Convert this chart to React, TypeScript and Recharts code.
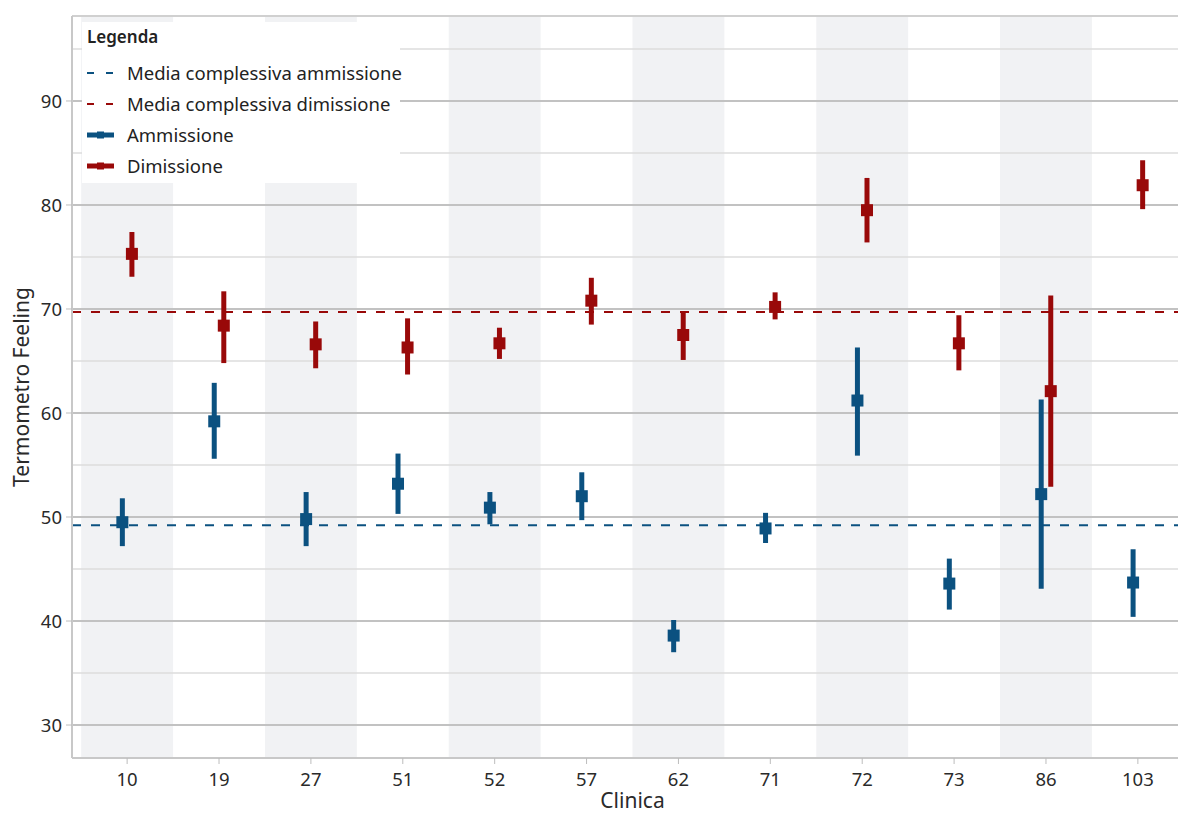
import React from 'react';
import {
  ComposedChart, Scatter, XAxis, YAxis, ReferenceLine, ReferenceArea, ErrorBar, Legend, Label,
} from 'recharts';

const clinics = ['10', '19', '27', '51', '52', '57', '62', '71', '72', '73', '86', '103'];
const ammMean = [49.5, 59.2, 49.8, 53.2, 50.9, 52.0, 38.6, 48.9, 61.2, 43.6, 52.2, 43.7];
const ammLow = [47.2, 55.6, 47.2, 50.3, 49.3, 49.7, 37.0, 47.5, 55.9, 41.1, 43.1, 40.4];
const ammHigh = [51.8, 62.9, 52.4, 56.1, 52.4, 54.3, 40.1, 50.4, 66.3, 46.0, 61.3, 46.9];
const disMean = [75.3, 68.4, 66.6, 66.3, 66.7, 70.8, 67.5, 70.2, 79.5, 66.7, 62.1, 81.9];
const disLow = [73.1, 64.8, 64.3, 63.7, 65.2, 68.5, 65.1, 69.0, 76.4, 64.1, 52.9, 79.6];
const disHigh = [77.4, 71.7, 68.8, 69.1, 68.2, 73.0, 69.8, 71.6, 82.6, 69.4, 71.3, 84.3];
const overallAmm = 49.2;
const overallDis = 69.7;
const majorTicks = [30, 40, 50, 60, 70, 80, 90];
const minorTicks = [35, 45, 55, 65, 75, 85, 95];

const BLUE = '#0b5180';
const RED = '#990909';
const FONT = '"Noto Sans", "Open Sans", sans-serif';
const X_DOMAIN: [number, number] = [-0.6, 11.6];
const Y_DOMAIN: [number, number] = [26.83, 98.17];
const SHIFT = 0.052;

const ammData = clinics.map((c, i) => ({ x: i, y: ammMean[i], err: [ammMean[i] - ammLow[i], ammHigh[i] - ammMean[i]] }));
const disData = clinics.map((c, i) => ({ x: i, y: disMean[i], err: [disMean[i] - disLow[i], disHigh[i] - disMean[i]] }));

const square = (color: string) => (props: any) => {
  const { cx, cy } = props;
  if (cx == null || cy == null) return <g />;
  return <rect x={cx - 6} y={cy - 6} width={12} height={12} fill={color} />;
};

const legendItems = [
  { label: 'Media complessiva ammissione', color: BLUE, dashed: true },
  { label: 'Media complessiva dimissione', color: RED, dashed: true },
  { label: 'Ammissione', color: BLUE, dashed: false },
  { label: 'Dimissione', color: RED, dashed: false },
];

const LegendBox = () => (
  <div style={{ position: 'relative', width: 318, height: 161, background: '#ffffff', fontFamily: FONT, color: '#222' }}>
    <div style={{ position: 'absolute', left: 5, top: 4, fontSize: 17, fontWeight: 600, lineHeight: '22px' }}>Legenda</div>
    {legendItems.map((it, k) => (
      <div key={it.label} style={{ position: 'absolute', left: 5, top: 40 + k * 31, height: 22, display: 'flex', alignItems: 'center' }}>
        <svg width={32} height={12} style={{ display: 'block' }}>
          {it.dashed ? (
            <line x1={0} y1={6} x2={28} y2={6} stroke={it.color} strokeWidth={2} strokeDasharray="7 12" />
          ) : (
            <g>
              <line x1={0} y1={6} x2={27} y2={6} stroke={it.color} strokeWidth={5} />
              <rect x={10} y={2.5} width={7} height={7} fill={it.color} />
            </g>
          )}
        </svg>
        <span style={{ marginLeft: 8, fontSize: 18.5, lineHeight: '22px', whiteSpace: 'nowrap' }}>{it.label}</span>
      </div>
    ))}
  </div>
);

export default function App() {
  return (
    <div style={{ position: 'absolute', left: 0, top: 0, width: 1178, height: 813, overflow: 'hidden', background: '#fff' }}>
      <ComposedChart width={1200} height={813} margin={{ top: 16, right: 7, bottom: 0, left: 0 }}>
        <XAxis xAxisId="amm" type="number" dataKey="x" domain={[X_DOMAIN[0] + SHIFT, X_DOMAIN[1] + SHIFT]} allowDataOverflow hide height={0} />
        <XAxis xAxisId="dis" type="number" dataKey="x" domain={[X_DOMAIN[0] - SHIFT, X_DOMAIN[1] - SHIFT]} allowDataOverflow hide height={0} />
        <XAxis
          xAxisId="main"
          type="number"
          dataKey="x"
          domain={X_DOMAIN}
          ticks={clinics.map((c, i) => i)}
          tickFormatter={(v: number) => clinics[v] ?? ''}
          allowDataOverflow
          height={55}
          axisLine={{ stroke: '#c8c8c8', strokeWidth: 2 }}
          tickLine={{ stroke: '#bdbdbd' }}
          tickSize={6}
          tickMargin={9}
          tick={{ fill: '#2a2a2a', fontSize: 18.5, fontFamily: FONT }}
        >
          <Label value="Clinica" position="insideBottom" offset={5} style={{ fill: '#2a2a2a', fontSize: 21, fontFamily: FONT }} />
        </XAxis>
        <YAxis
          type="number"
          dataKey="y"
          domain={Y_DOMAIN}
          ticks={majorTicks}
          allowDataOverflow
          width={72}
          axisLine={{ stroke: '#c8c8c8', strokeWidth: 2 }}
          tickLine={{ stroke: '#bdbdbd' }}
          tickSize={6}
          tickMargin={4}
          tick={{ fill: '#2a2a2a', fontSize: 18.5, fontFamily: FONT }}
        >
          <Label value="Termometro Feeling" angle={-90} position="insideLeft" offset={22} style={{ textAnchor: 'middle', fill: '#2a2a2a', fontSize: 21, fontFamily: FONT }} />
        </YAxis>

        {clinics.map((c, i) => (i % 2 === 0 ? (
          <ReferenceArea key={'band' + c} xAxisId="main" x1={i - 0.5} x2={i + 0.5} y1={Y_DOMAIN[0]} y2={Y_DOMAIN[1]} fill="#f1f2f4" fillOpacity={1} stroke="none" />
        ) : null))}
        {minorTicks.map((t) => (
          <ReferenceLine key={'mn' + t} xAxisId="main" y={t} stroke="#dcdcdc" strokeWidth={1.5} />
        ))}
        {majorTicks.map((t) => (
          <ReferenceLine key={'mj' + t} xAxisId="main" y={t} stroke="#c2c2c2" strokeWidth={2} />
        ))}
        <ReferenceLine xAxisId="main" y={Y_DOMAIN[1]} stroke="#d0d0d0" strokeWidth={2} />
        <ReferenceLine xAxisId="main" y={overallAmm} stroke={BLUE} strokeWidth={2} strokeDasharray="9 10" />
        <ReferenceLine xAxisId="main" y={overallDis} stroke={RED} strokeWidth={2} strokeDasharray="9 10" />

        <Scatter name="Ammissione" xAxisId="amm" data={ammData} fill={BLUE} shape={square(BLUE)} isAnimationActive={false}>
          <ErrorBar dataKey="err" direction="y" width={0} stroke={BLUE} strokeWidth={5} isAnimationActive={false} />
        </Scatter>
        <Scatter name="Dimissione" xAxisId="dis" data={disData} fill={RED} shape={square(RED)} isAnimationActive={false}>
          <ErrorBar dataKey="err" direction="y" width={0} stroke={RED} strokeWidth={5} isAnimationActive={false} />
        </Scatter>

        <Legend
          layout="horizontal"
          verticalAlign="middle"
          align="center"
          content={() => <LegendBox />}
          wrapperStyle={{ position: 'absolute', left: 82, top: 22, width: 318, height: 161 }}
        />
      </ComposedChart>
    </div>
  );
}
